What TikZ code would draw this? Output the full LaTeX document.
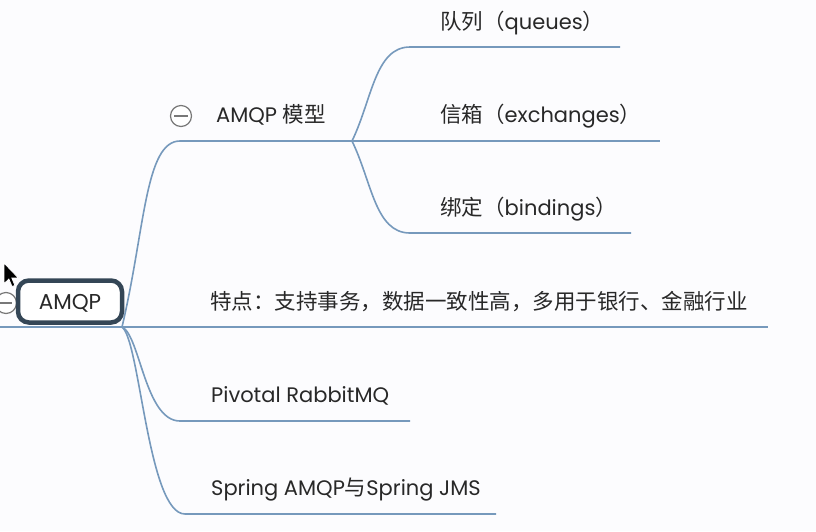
\documentclass[tikz,border=0pt]{standalone}
\usepackage{fontspec}
\setmainfont{Poppins}
\newfontfamily\cjk{Noto Sans CJK SC}
\definecolor{branch}{RGB}{118,153,188}
\definecolor{txt}{RGB}{40,40,40}
\definecolor{rootline}{RGB}{52,70,86}
\definecolor{bg}{RGB}{252,252,254}
\definecolor{ctl}{RGB}{120,120,120}
\tikzset{
  branchline/.style={draw=branch, line width=1.6pt},
  lbl/.style={anchor=base west, inner sep=0pt, text=txt, font=\fontsize{21}{24}\selectfont},
  rootbox/.style={draw=rootline, line width=4.5pt, rounded corners=11pt, fill=white,
    minimum width=104pt, minimum height=42pt, inner sep=0pt, text height=15pt, text depth=0pt,
    text=txt, font=\fontsize{21.5}{24}\selectfont},
  collapse/.style={circle, draw=ctl, line width=1.2pt, minimum size=21pt, inner sep=0pt, fill=white},
}
\newcommand{\zh}[1]{{\cjk\fontsize{21.5}{24}\selectfont #1}}
\begin{document}
\begin{tikzpicture}[x=1pt,y=-1pt]
\useasboundingbox[fill=bg] (0,0) rectangle (816,531);
% branch points
\coordinate (o) at (122,327);
\coordinate (m) at (352,141);
\coordinate (rl) at (0,327);
\coordinate (re) at (768,327);
\coordinate (ms) at (180,141);
\coordinate (qs) at (410,47);  \coordinate (qe) at (620,47);
\coordinate (ee) at (660,141);
\coordinate (bs) at (410,233); \coordinate (be) at (631,233);
\coordinate (ps) at (180,421); \coordinate (pe) at (410,421);
\coordinate (ss) at (185,514); \coordinate (se) at (496,514);
% connectors
\draw[branchline] (rl) -- (re);
\draw[branchline] (o) .. controls (145,230) and (145,141) .. (ms) -- (m);
\draw[branchline] (m) .. controls (372,100) and (375,47) .. (qs) -- (qe);
\draw[branchline] (m) -- (ee);
\draw[branchline] (m) .. controls (372,182) and (375,233) .. (bs) -- (be);
\draw[branchline] (o) .. controls (140,335) and (145,421) .. (ps) -- (pe);
\draw[branchline] (o) .. controls (140,340) and (148,514) .. (ss) -- (se);
% collapse markers
\node[collapse] (c0) at (6,303) {};
\draw[ctl, line width=1.2pt] ([xshift=-6pt]c0.center) -- ([xshift=6pt]c0.center);
\node[collapse] (c1) at (181,116) {};
\draw[ctl, line width=1.2pt] ([xshift=-7pt]c1.center) -- ([xshift=7pt]c1.center);
% root
\node[rootbox] (root) at (70,301.5) {AMQP};
% labels
\node[lbl] (model) at (216,122) {AMQP \zh{模型}};
\node[lbl] (q) at (440,29) {\zh{队列（}queues\zh{）}};
\node[lbl] (e) at (440,122) {\zh{信箱（}exchanges\zh{）}};
\node[lbl] (b) at (440,215) {\zh{绑定（}bindings\zh{）}};
\node[lbl] (f) at (210,309) {\zh{特点：支持事务，数据一致性高，多用于银行、金融行业}};
\node[lbl] (p) at (211,402) {Pivotal RabbitMQ};
\node[lbl] (s) at (211,495) {Spring AMQP\zh{与}Spring JMS};
% mouse cursor
\draw[fill=black, draw=white, line width=0.8pt, shift={(4,263)}, scale=1.15]
  (0,0) -- (0,18) -- (4.2,14) -- (7,20.5) -- (9.5,19.5) -- (6.8,13) -- (12.5,13) -- cycle;
\end{tikzpicture}
\end{document}
